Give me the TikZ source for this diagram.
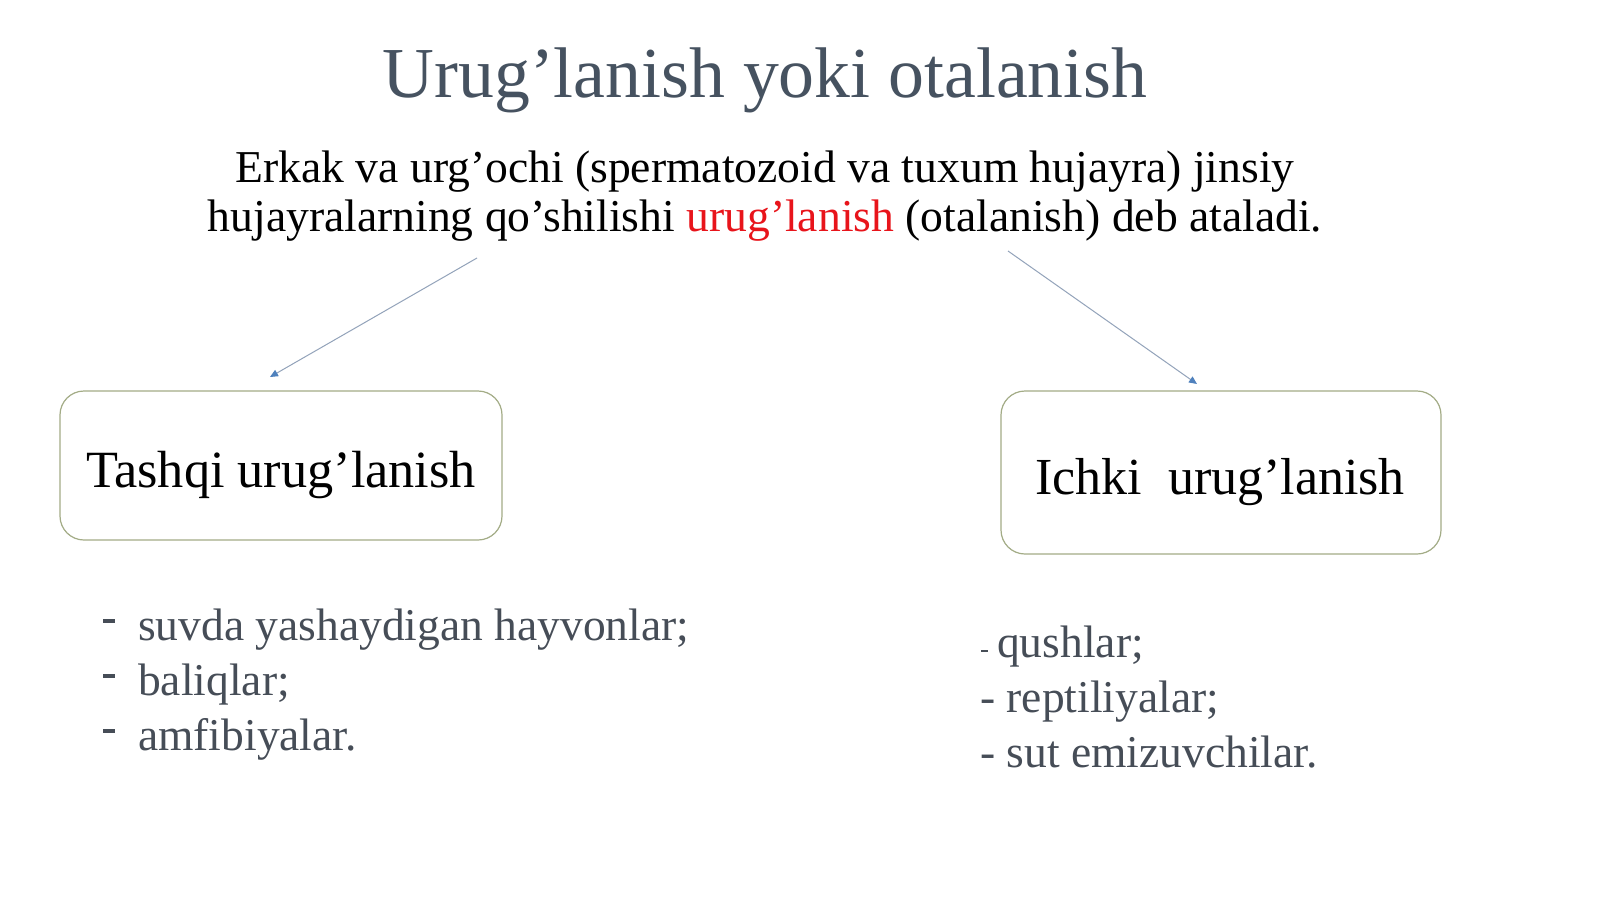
\documentclass[tikz,border=0pt]{standalone}
\usepackage{fontspec}
\setmainfont{Liberation Serif}
\usetikzlibrary{arrows.meta}
\definecolor{titlecol}{HTML}{465260}
\definecolor{listcol}{HTML}{464D57}
\definecolor{boxcol}{HTML}{A3AC86}
\definecolor{arrline}{HTML}{93A3BA}
\definecolor{arrtip}{HTML}{4F81BD}
\definecolor{redtext}{HTML}{E8141B}
\tikzset{
  txt/.style={inner sep=0pt, anchor=base west},
  ctxt/.style={inner sep=0pt, anchor=base},
  boxnode/.style={draw=boxcol, line width=1.2pt, rounded corners=24pt, fill=white, inner sep=0pt},
  conn/.style={draw=arrline, line width=1pt, -{Triangle[length=8pt,width=7pt,fill=arrtip,color=arrtip]}},
  listtxt/.style={txt, text=listcol, font=\fontsize{45.5}{50}\selectfont},
}
\begin{document}
\begin{tikzpicture}[x=1pt,y=-1pt]
\useasboundingbox (0,0) rectangle (1600,899);
\fill[white] (0,0) rectangle (1600,899);
% title
\node[ctxt, text=titlecol, font=\fontsize{71.7}{80}\selectfont] (title) at (765,97) {Urug’lanish yoki otalanish};
% definition
\node[ctxt, font=\fontsize{45.6}{50}\selectfont] (def1) at (765,182) {Erkak va urg’ochi (spermatozoid va tuxum hujayra) jinsiy};
\node[ctxt, font=\fontsize{45.6}{50}\selectfont] (def2) at (765,231) {hujayralarning qo’shilishi \textcolor{redtext}{urug’lanish} (otalanish) deb ataladi.};
% boxes
\node[boxnode, minimum width=442pt, minimum height=149pt] (left) at (281,465.5) {};
\node[boxnode, minimum width=440pt, minimum height=163pt] (right) at (1221,472.5) {};
\node[ctxt, font=\fontsize{52.3}{60}\selectfont] (lefttxt) at (281,487) {Tashqi urug’lanish};
\node[ctxt, font=\fontsize{52}{60}\selectfont] (righttxt) at (1220,494) {Ichki\ \ urug’lanish};
% arrows
\coordinate (a1s) at (477,258);
\coordinate (a1e) at (270,377);
\coordinate (a2s) at (1008,251);
\coordinate (a2e) at (1197,384);
\draw[conn] (a1s) -- (a1e);
\draw[conn] (a2s) -- (a2e);
% left list
\node[listtxt] (l1) at (138,640) {suvda yashaydigan hayvonlar;};
\node[listtxt] (l2) at (138,695) {baliqlar;};
\node[listtxt] (l3) at (138,750) {amfibiyalar.};
\foreach \y [count=\i] in {621,676,731} {
  \fill[listcol] (103,\y-1.6) rectangle (115,\y+1.6);
}
% right list
\node[listtxt] (r1) at (997,657) {qushlar;};
\fill[listcol] (981,650) rectangle (988,652.2);
\node[listtxt] (r2) at (980,712) {- reptiliyalar;};
\node[listtxt] (r3) at (980,767) {- sut emizuvchilar.};
\end{tikzpicture}
\end{document}
